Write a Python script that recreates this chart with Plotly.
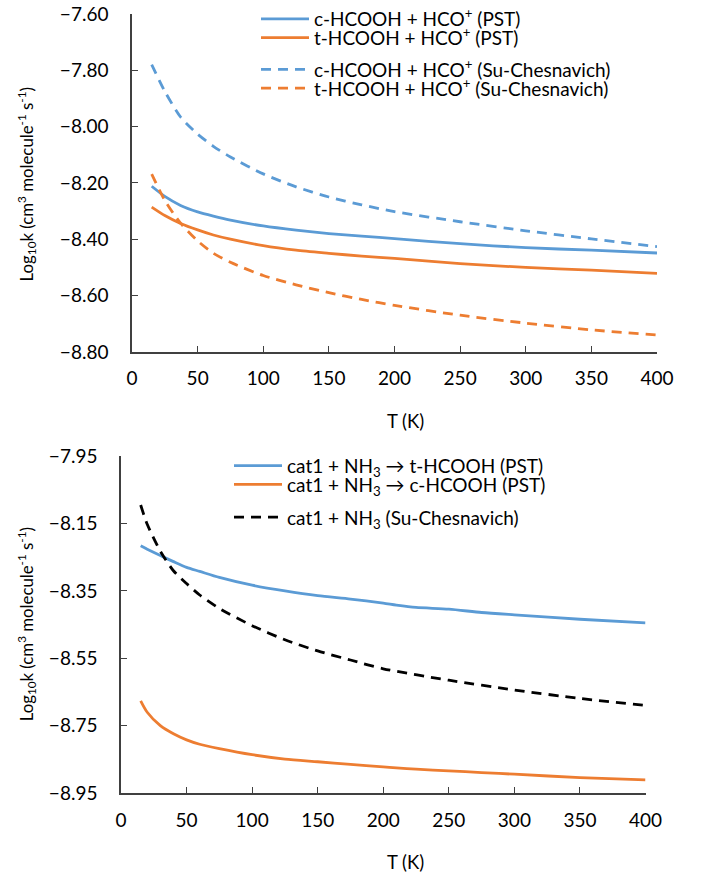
import plotly.graph_objects as go

# ---------- data: top panel (HCOOH + HCO+) ----------
T_top = [15, 25, 37, 50, 62, 75, 100, 125, 150, 175, 200, 250, 300, 350, 400]
c_pst = [-8.212, -8.248, -8.280, -8.303, -8.318, -8.332, -8.353, -8.368, -8.380, -8.389, -8.398, -8.416, -8.430, -8.439, -8.449]
t_pst = [-8.286, -8.316, -8.344, -8.367, -8.385, -8.400, -8.423, -8.439, -8.450, -8.460, -8.468, -8.487, -8.500, -8.510, -8.521]
c_sc = [-7.780, -7.875, -7.966, -8.027, -8.070, -8.108, -8.168, -8.214, -8.250, -8.278, -8.302, -8.338, -8.370, -8.399, -8.426]
t_sc = [-8.169, -8.262, -8.343, -8.406, -8.450, -8.482, -8.529, -8.562, -8.590, -8.614, -8.635, -8.670, -8.698, -8.722, -8.740]

# ---------- data: bottom panel (cat1 + NH3) ----------
T_bot = [15, 20, 30, 40, 50, 60, 75, 100, 125, 150, 175, 200, 210, 225, 250, 275, 300, 350, 400]
cat_t = [-8.216, -8.226, -8.245, -8.263, -8.280, -8.292, -8.310, -8.333, -8.350, -8.364, -8.374, -8.386, -8.392, -8.399, -8.404, -8.414, -8.421, -8.434, -8.445]
cat_c = [-8.676, -8.710, -8.750, -8.774, -8.792, -8.805, -8.818, -8.836, -8.849, -8.857, -8.865, -8.872, -8.875, -8.879, -8.884, -8.889, -8.894, -8.904, -8.911]
T_bot_sc = [15, 20, 30, 40, 50, 60, 75, 100, 125, 150, 175, 200, 250, 300, 350, 400]
cat_sc = [-8.095, -8.152, -8.232, -8.290, -8.328, -8.362, -8.402, -8.453, -8.495, -8.528, -8.555, -8.581, -8.615, -8.644, -8.669, -8.690]

x_ticks = [0, 50, 100, 150, 200, 250, 300, 350, 400]

BLUE = "#5B9BD5"
ORANGE = "#ED7D31"
FONT = "Lato"
W, H = 707, 879
DASH = "10px,7px"


def px_x(p):
    return p / W


def px_y(p):
    return 1 - p / H


fig = go.Figure()


def add(x, y, name, color, dash, xa, ya, legend):
    fig.add_trace(go.Scatter(
        x=x, y=y, name=name, mode="lines",
        line=dict(color=color, width=2.8, dash=dash, shape="spline", smoothing=0.7),
        xaxis=xa, yaxis=ya, legend=legend, hoverinfo="skip"))


add(T_top, c_pst, "c-HCOOH + HCO<sup>+</sup> (PST)", BLUE, "solid", "x", "y", "legend")
add(T_top, t_pst, "t-HCOOH + HCO<sup>+</sup> (PST)", ORANGE, "solid", "x", "y", "legend2")
add(T_top, c_sc, "c-HCOOH + HCO<sup>+</sup> (Su-Chesnavich)", BLUE, DASH, "x", "y", "legend3")
add(T_top, t_sc, "t-HCOOH + HCO<sup>+</sup> (Su-Chesnavich)", ORANGE, DASH, "x", "y", "legend4")

add(T_bot, cat_t, "cat1 + NH<sub>3</sub> → t-HCOOH (PST)", BLUE, "solid", "x2", "y2", "legend5")
add(T_bot, cat_c, "cat1 + NH<sub>3</sub> → c-HCOOH (PST)", ORANGE, "solid", "x2", "y2", "legend6")
add(T_bot_sc, cat_sc, "cat1 + NH<sub>3</sub> (Su-Chesnavich)", "#000000", DASH, "x2", "y2", "legend7")

axis_common = dict(
    showline=True, linecolor="#404040", linewidth=1.5,
    ticks="inside", ticklen=6, tickwidth=1.2, tickcolor="#404040",
    showgrid=False, zeroline=False, mirror=False, automargin=False,
    ticklabeloverflow="allow",
    tickfont=dict(family=FONT, size=19, color="#000000"),
)


def leg(xp, yp):
    return dict(x=px_x(xp), y=px_y(yp), xanchor="left", yanchor="middle",
                bgcolor="rgba(0,0,0,0)", borderwidth=0,
                font=dict(family=FONT, size=19, color="#000000"), itemwidth=48)


fig.update_layout(
    width=W, height=H, autosize=False,
    margin=dict(l=0, r=0, t=0, b=0, pad=0),
    paper_bgcolor="white", plot_bgcolor="white",
    font=dict(family=FONT, size=18, color="#000000"),
    xaxis=dict(domain=[px_x(132), px_x(657)], range=[0, 400], tickvals=x_ticks,
               anchor="y", ticklabelstandoff=9, **axis_common),
    yaxis=dict(domain=[px_y(347), px_y(6)], range=[-8.8, -7.6], dtick=0.2,
               tick0=-7.6, tickformat=".2f", anchor="x", ticklabelstandoff=18, **axis_common),
    xaxis2=dict(domain=[px_x(121), px_x(645.5)], range=[0, 400], tickvals=x_ticks,
                anchor="y2", ticklabelstandoff=9, **axis_common),
    yaxis2=dict(domain=[px_y(792.3), px_y(452.3)], range=[-8.95, -7.95], dtick=0.2,
                tick0=-7.95, tickformat=".2f", anchor="x2", ticklabelstandoff=18, **axis_common),
    legend=leg(256, 11),
    legend2=leg(256, 30),
    legend3=leg(256, 62),
    legend4=leg(256, 81),
    legend5=leg(229, 462),
    legend6=leg(229, 481),
    legend7=leg(229, 514),
    showlegend=True,
)

ytitle = "Log<sub>10</sub>k (cm<sup>3</sup> molecule<sup>-1</sup> s<sup>-1</sup>)"
annos = [
    dict(text="T (K)", x=px_x(406), y=px_y(417), size=18.5),
    dict(text="T (K)", x=px_x(406), y=px_y(862), size=18.5),
    dict(text=ytitle, x=px_x(27), y=px_y(178), textangle=-90, size=16.8),
    dict(text=ytitle, x=px_x(27), y=px_y(622), textangle=-90, size=16.8),
]
for a in annos:
    size = a.pop("size")
    fig.add_annotation(xref="paper", yref="paper", showarrow=False,
                       xanchor="center", yanchor="middle",
                       font=dict(family=FONT, size=size, color="#000000"), **a)

fig.write_html("out.html", config={"displayModeBar": False},
               post_script="document.body.style.margin='0px';")
